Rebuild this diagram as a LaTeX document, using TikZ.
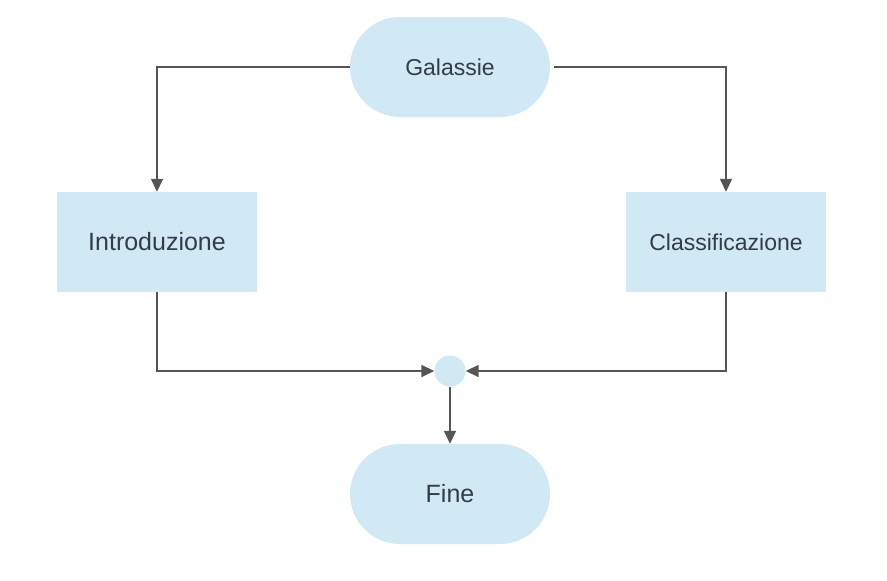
\documentclass[tikz,border=0pt]{standalone}
\usepackage{fontspec}
\setmainfont{Liberation Sans}
\usepackage{tikz}
\usetikzlibrary{calc,positioning,arrows.meta}
\definecolor{boxfill}{HTML}{D1E8F5}
\definecolor{linegray}{HTML}{555555}
\definecolor{textgray}{HTML}{333D47}
\tikzset{
  line/.style={-{Triangle[length=13pt,width=12pt]}, line width=1.5pt, draw=linegray},
  box/.style={fill=boxfill, align=center, inner sep=3pt, text=textgray},
  procbox/.style={box, minimum width=200pt, minimum height=100pt},
  termbox/.style={box, rounded corners=50pt, minimum width=200pt, minimum height=100pt},
  joint/.style={circle, fill=boxfill, minimum size=31pt, inner sep=0pt}
}

\begin{document}
\begin{tikzpicture}[x=1pt, y=-1pt]
  \useasboundingbox (0,0) rectangle (887,581);
  \node[termbox, font=\fontsize{23}{27}\selectfont] (gal) at (450,67) {Galassie};
  \node[procbox, font=\fontsize{25}{29}\selectfont] (intro) at (157,242) {Introduzione};
  \node[procbox, font=\fontsize{23}{27}\selectfont] (class) at (726,242) {Classificazione};
  \node[joint] (join) at (450,371) {};
  \node[termbox, font=\fontsize{25}{29}\selectfont] (fine) at (450,494) {Fine};

  \draw[line] (gal) -| (intro);
  \draw[line, shorten <=4pt] (gal) -| (class);
  \draw[line] (intro) |- (join);
  \draw[line] (class) |- (join);
  \draw[line] (join) -- (fine);
\end{tikzpicture}
\end{document}
